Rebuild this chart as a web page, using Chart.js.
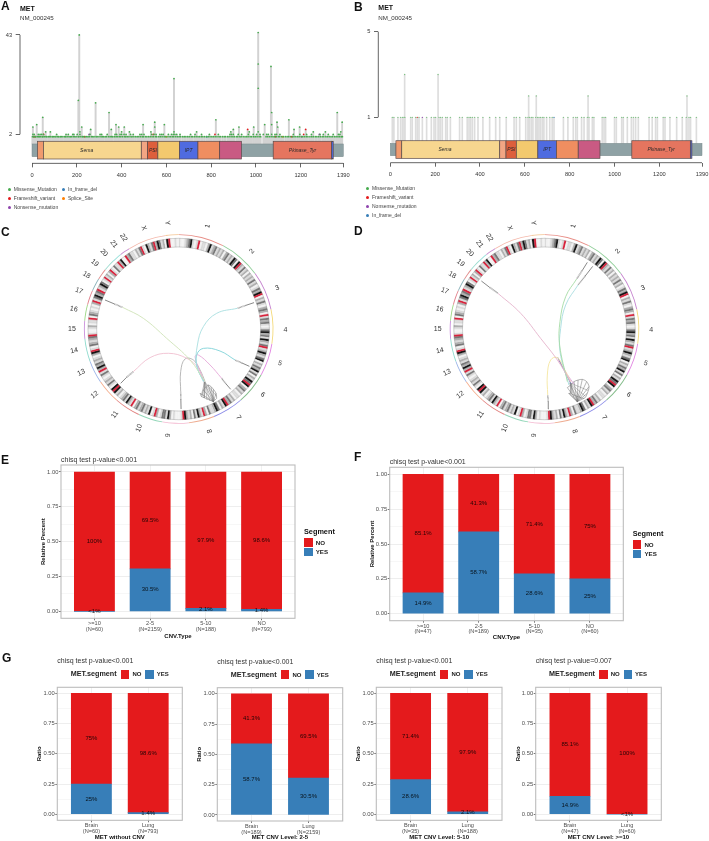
<!DOCTYPE html>
<html>
<head>
<meta charset="utf-8">
<title>MET</title>
<script src="https://cdn.jsdelivr.net/npm/chart.js@4"></script>
<style>
html, body { margin: 0; padding: 0; background: #fff; }
#page { position: relative; width: 709px; height: 841px; overflow: hidden; font-family: "Liberation Sans", Arial, sans-serif; color: #111; }
#page canvas { position: absolute; left: 0; top: 0; }
.t { position: absolute; white-space: nowrap; transform: translateY(-50%); line-height: 1; }
.sq, .dot { position: absolute; }
.dot { width: 3px; height: 3px; border-radius: 50%; }
</style>
</head>
<body>
<div id="page"></div>
<script>
// ---- protein track: MET, NM_000245 ----
var aaTicks = [0, 200, 400, 600, 800, 1000, 1200, 1390]
var domainStart = [25, 51, 488, 516, 562, 658, 741, 838, 1077, 1338]
var domainEnd = [51, 488, 516, 562, 658, 741, 838, 935, 1338, 1345]
var domainName = ['', 'Sema', '', 'PSI', '', 'IPT', '', '', 'Pkinase_Tyr', '']
var domainLabelAt = [0, 244, 0, 540, 0, 699, 0, 0, 1208, 0]

// cohort A mutations
var aTallX = [4, 21, 48, 61, 82, 211, 207, 222, 214, 262, 284, 344, 354, 375, 387, 412, 435, 400, 496, 548, 548, 591, 531, 634, 634, 821, 735, 899, 924, 888, 970, 990, 1010, 1010, 1010, 1010, 1067, 1070, 1070, 1039, 1094, 1097, 1147, 1170, 1195, 1363, 1385, 1379, 1310, 1256]
var aTallY = [5, 6, 9, 3, 3, 43, 16, 5, 3, 4, 15, 11, 4, 6, 5, 5, 3, 3, 6, 7, 5, 6, 3, 25, 3, 8, 3, 4, 5, 3, 3, 5, 44, 31, 21, 3, 30, 11, 6, 6, 7, 5, 8, 4, 5, 11, 7, 3, 3, 3]
var aMidX = [4, 10, 28, 36, 43, 51, 110, 152, 162, 182, 187, 202, 214, 259, 304, 311, 336, 371, 378, 393, 400, 411, 420, 440, 452, 482, 490, 500, 534, 545, 554, 571, 579, 586, 609, 623, 631, 638, 646, 661, 708, 728, 757, 792, 832, 884, 891, 899, 921, 936, 966, 988, 1003, 1018, 1033, 1048, 1055, 1070, 1085, 1092, 1107, 1167, 1196, 1226, 1248, 1286, 1301, 1323, 1345, 1368, 1375]
var aLowX = [2, 7, 13, 17, 24, 30, 33, 39, 46, 49, 55, 62, 66, 73, 78, 84, 91, 95, 102, 107, 115, 119, 126, 131, 138, 146, 150, 157, 165, 171, 176, 184, 191, 197, 206, 210, 218, 225, 229, 237, 244, 250, 256, 265, 271, 277, 286, 291, 299, 308, 314, 320, 327, 333, 342, 349, 356, 361, 369, 376, 383, 391, 397, 405, 414, 419, 426, 433, 442, 447, 455, 463, 470, 477, 485, 493, 498, 507, 513, 521, 528, 536, 543, 552, 557, 566, 573, 581, 590, 596, 603, 612, 619, 627, 633, 642, 650, 657, 664, 673, 680, 687, 695, 702, 711, 717, 725, 733, 741, 748, 756, 763, 771, 780, 787, 795, 803, 810, 818, 826, 835, 841, 850, 858, 864, 873, 880, 889, 897, 904, 913, 919, 928, 934, 943, 951, 958, 965, 974, 981, 990, 997, 1005, 1014, 1021, 1045, 1052, 1060, 1068, 1076, 1083, 1091, 1100, 1106, 1115, 1122, 1131, 1139, 1146, 1154, 1163, 1170, 1178, 1186, 1193, 1202, 1209, 1217, 1225, 1232, 1241, 1249, 1256, 1265, 1272, 1280, 1288, 1296, 1303, 1312, 1319, 1327, 1335, 1342, 1351, 1358, 1366, 1373, 1381, 1386]
var aFrameshiftX = [963, 1222, 8, 14, 52, 235, 541, 817, 1087, 1160, 1213]
var aFrameshiftY = [4, 4, 1, 1, 2, 1, 2, 2, 1, 1, 2]
var aNonsenseX = [255, 1204, 1283]
var aNonsenseY = [2, 1, 2]
var aInFrameX = [780]
var aInFrameY = [1]
var aSpliceX = [600, 1120]
var aSpliceY = [1, 1]

// cohort B mutations
var bTallX = [64, 213, 617, 651, 882, 1323]
var bTallY = [3, 3, 2, 2, 2, 2]
var bLowX = [9, 16, 34, 46, 54, 61, 65, 91, 98, 113, 128, 162, 183, 195, 202, 217, 224, 232, 247, 254, 268, 309, 321, 343, 351, 358, 366, 376, 391, 413, 443, 470, 488, 517, 552, 562, 577, 604, 614, 621, 629, 636, 648, 656, 663, 670, 678, 685, 697, 711, 722, 772, 792, 816, 827, 834, 853, 864, 879, 886, 901, 908, 945, 953, 960, 1000, 1008, 1032, 1039, 1057, 1075, 1084, 1094, 1106, 1154, 1168, 1183, 1191, 1217, 1225, 1247, 1277, 1302, 1320, 1332, 1339, 1365]
var bFrameshiftX = [120]
var bNonsenseX = [143]
var bInFrameX = [730]

// ---- circular genome plots ----
var chromNames = ['1', '2', '3', '4', '5', '6', '7', '8', '9', '10', '11', '12', '13', '14', '15', '16', '17', '18', '19', '20', '21', '22', 'X', 'Y']
var chromSpans = [28, 26, 24, 21, 20, 20, 19, 16, 16, 15, 16, 15, 14, 14, 11, 10, 9, 8, 7, 7, 6, 6.5, 23.5, 8]
var chromLabelDeg = [15.7, 43.2, 67.4, 90.5, 108.7, 128, 146, 163.6, 185.7, 201.8, 216.7, 232, 245.9, 258.3, 270, 280.8, 291, 300.3, 308.2, 315.6, 322.6, 328.9, 341, 354]
// stain of each band along a chromosome: 0 white .. 4 black, r centromere
var chromBands = ['1001234101r01102412312', '120231214304r21312021', '2131201324r02131023', '20r13231013423142', '13r1242134021324', '1302143r40231201', '102132r41203421', '1302r12413021', '24r1000102413', '3102r1041213', '21320r1241321', '0214r4013121', '0131r242312', '1024r103212', '3r1001201', '1r032101', '02r1342', '3r1243', '01r120', '2r1031', '1r240', '0r231', '10213r104213r243120', '4r0010']

// link paths in units of the outer radius (100)
var cTips = [
  [[-78, 30.7], [-68, 26.5], [-59.3, 22.9]],
  [[79.7, 27.9], [71, 25], [62.1, 21.9]],
  [[74.8, -39.5], [67, -36], [59.6, -32.8]],
  [[55, -63.8], [50, -58], [45.5, -52.2]],
  [[-61.4, -57.5], [-55, -51], [-48, -45.1]],
  [[2.5, -84.7], [2.3, -75], [2.1, -66.3]]
]
var cLinks = [
  [[-59.3, 22.9], [-37.4, 11.3], [-12.7, -9.9], [12, -32.8], [27.9, -55.7]],
  [[62.1, 21.9], [40.2, 16.6], [26.1, 2.5], [19.8, -16.9], [19, -38.1], [26.1, -55.7]],
  [[59.6, -32.8], [43.7, -23.3], [26.1, -20.5], [19, -27.5], [19.8, -41.6], [26.8, -55.7]],
  [[45.5, -52.2], [33.2, -38.1], [20.8, -27.5], [17.3, -29.3], [22.6, -45.1], [26.8, -55.7]],
  [[-48, -45.1], [-30.3, -30.3], [-10.9, -25.7], [8.5, -31], [20.8, -41.6], [26.8, -55.7]],
  [[2.1, -66.3], [2.1, -45.1], [6.7, -31.7], [15.5, -32.8], [22.6, -43.4], [27.9, -55.7]]
]
var cFanHub = [36.7, -76.9]
var cFanEnds = [[22.6, -68], [24.3, -71.6], [26.1, -64.5], [28.9, -61], [31.4, -59.3], [34.2, -61], [36.7, -63.8], [39.5, -68], [40.2, -73.4]]
var cFanApex = [27.5, -56]
var cFanLower = [[24, -70], [27, -73], [30, -75], [33, -76], [38, -75], [40, -71]]

var dTips = [
  [[-66.8, 50.8], [-58, 44], [-49.2, 37.7]],
  [[45.3, 70.5], [40, 62], [34, 52.9]],
  [[51, 66.3], [43, 56], [35.5, 46.6]],
  [[4.4, -84.7], [4, -77], [3.4, -69.8]]
]
var dLinks = [
  [[-49.2, 37.7], [-25.2, 16.6], [-4.1, -9.9], [13.6, -32.8], [27.7, -55.7]],
  [[34, 52.9], [22.4, 34.2], [16.4, 7.8], [16, -16.9], [24.2, -55.7]],
  [[35.5, 46.6], [22.4, 25.4], [17.1, 0.7], [16.4, -24], [25.9, -59.3]],
  [[3.4, -69.8], [3, -48.7], [6.5, -32.8], [13.6, -30.3], [20.6, -41.6], [27.7, -55.7]],
  [[14, -30], [20, -42], [28, -58]],
  [[15, -33], [24, -48], [31, -58]]
]
var dFanHub = [34.7, -76.9]
var dFanEnds = [[24.2, -62], [27.7, -59.3], [31.2, -55.7], [35.5, -54], [40, -53.3], [44.6, -55.7], [47.1, -61], [45.3, -68], [41.8, -73.4], [25.9, -68], [31.2, -73.4]]
var dFanApex = [27, -57]
var dFanLower = [[28, -68], [31, -72], [35, -75], [39, -74], [43, -71], [46, -65]]

// ---- segment proportion bars ----
var eCats = [['>=10', '(N=60)'], ['2-5', '(N=2159)'], ['5-10', '(N=188)'], ['NO', '(N=793)']]
var eYes = [0, 30.5, 2.1, 1.4]
var eNo = [100, 69.5, 97.9, 98.6]
var fCats = [['>=10', '(N=47)'], ['2-5', '(N=189)'], ['5-10', '(N=35)'], ['NO', '(N=60)']]
var fYes = [14.9, 58.7, 28.6, 25]
var fNo = [85.1, 41.3, 71.4, 75]
var g1Cats = [['Brain', '(N=60)'], ['Lung', '(N=793)']]
var g1Yes = [25, 1.4]
var g1No = [75, 98.6]
var g2Cats = [['Brain', '(N=189)'], ['Lung', '(N=2159)']]
var g2Yes = [58.7, 30.5]
var g2No = [41.3, 69.5]
var g3Cats = [['Brain', '(N=35)'], ['Lung', '(N=188)']]
var g3Yes = [28.6, 2.1]
var g3No = [71.4, 97.9]
var g4Cats = [['Brain', '(N=47)'], ['Lung', '(N=60)']]
var g4Yes = [14.9, 0]
var g4No = [85.1, 100]
var ratioTicks = [0, 0.125, 0.25, 0.375, 0.5, 0.625, 0.75, 0.875, 1]

// ---- colours ----
var RED = '#E41A1C'
var BLUE = '#377EB8'
var mutColor = { missense: '#46ab4e', frameshift: '#e41a1c', nonsense: '#8e44ad', inframe: '#377eb8', splice: '#ff7f00' }
var domainColor = ['#f09a6e', '#f7d68f', '#f2a583', '#dd5f3c', '#f3c96e', '#4f6be0', '#ef8e60', '#c95a83', '#e5755f', '#4f6be0']
var chromColor = ['#e88f88', '#92cf9b', '#c684cf', '#f4da7c', '#e288e2', '#86bd8c', '#8c8ce8', '#eeab8f', '#f4b8d0', '#92d6b8', '#e28482', '#f4ae8e', '#9cb5e8', '#92dccf', '#ca90dc', '#9ed887', '#e2848f', '#8fb5bc', '#e2908f', '#9cdccf', '#9ce2dc', '#ca90cf', '#f4b8ab', '#f4c490']
var stainColor = { '0': '#f2f2f2', '1': '#dadada', '2': '#b0b0b0', '3': '#777777', '4': '#141414', 'r': '#d8203a' }

Chart.defaults.font.family = '"Liberation Sans", Arial, sans-serif'
Chart.defaults.animation = false
Chart.defaults.plugins.legend.display = false
Chart.defaults.plugins.tooltip.enabled = false

var page = document.getElementById('page')

function newCanvas() {
  var c = document.createElement('canvas')
  c.width = 709
  c.height = 841
  page.appendChild(c)
  return c
}

function text(x, y, str, size, extra) {
  var d = document.createElement('div')
  d.className = 't'
  d.textContent = str
  d.style.left = x + 'px'
  d.style.top = y + 'px'
  d.style.fontSize = size + 'px'
  if (extra) d.style.cssText += extra
  page.appendChild(d)
}

function box(x, y, w, h, color) {
  var d = document.createElement('div')
  d.className = 'sq'
  d.style.cssText = 'left:' + x + 'px;top:' + y + 'px;width:' + w + 'px;height:' + h + 'px;background:' + color
  page.appendChild(d)
}

function dotKey(x, y, color, str) {
  var d = document.createElement('div')
  d.className = 'dot'
  d.style.cssText = 'left:' + (x - 1.5) + 'px;top:' + (y - 1.5) + 'px;background:' + color
  page.appendChild(d)
  text(x + 4.7, y, str, 5, 'color:#444')
}

// pins the plot area: the scales keep the sizes given here
function fitter(size) {
  return function (s) {
    if (s.isHorizontal()) s.height = size
    else s.width = size
    s.paddingLeft = s.paddingRight = s.paddingTop = s.paddingBottom = 0
  }
}

function pts(xs, ys, level) {
  return xs.map(function (x, i) { return { x: x, y: ys ? ys[i] : level } })
}

function scatterSet(points, color, radius) {
  return { type: 'scatter', data: points, pointRadius: radius, pointBorderWidth: 0, backgroundColor: color, order: 1, clip: false }
}

// ---- lollipop panels ----
function lollipop(cfg) {
  var L = cfg.left, R = cfg.right, T = cfg.top, B = cfg.bottom
  var trackPlugin = {
    id: 'track',
    afterDatasetsDraw: function (chart) {
      var ctx = chart.ctx, x = chart.scales.x, y = chart.scales.y
      ctx.save()
      // axis spines run only between the outer ticks
      ctx.strokeStyle = '#555'
      ctx.lineWidth = 0.9
      ctx.beginPath()
      ctx.moveTo(x.getPixelForValue(0), chart.chartArea.bottom)
      ctx.lineTo(x.getPixelForValue(1390), chart.chartArea.bottom)
      ctx.moveTo(chart.chartArea.left, y.getPixelForValue(cfg.yTicks[0]))
      ctx.lineTo(chart.chartArea.left, y.getPixelForValue(cfg.yTicks[1]))
      ctx.stroke()
      // backbone
      var b0 = y.getPixelForValue(cfg.backbone[0]), b1 = y.getPixelForValue(cfg.backbone[1])
      ctx.fillStyle = '#8fa2a5'
      ctx.fillRect(x.getPixelForValue(0), b0, x.getPixelForValue(1390) - x.getPixelForValue(0), b1 - b0)
      ctx.strokeStyle = '#7a8a8c'
      ctx.lineWidth = 0.5
      ctx.strokeRect(x.getPixelForValue(0), b0, x.getPixelForValue(1390) - x.getPixelForValue(0), b1 - b0)
      // domains
      var d0 = y.getPixelForValue(cfg.domainY[0]), d1 = y.getPixelForValue(cfg.domainY[1])
      domainStart.forEach(function (s, i) {
        var px0 = x.getPixelForValue(s), px1 = x.getPixelForValue(domainEnd[i])
        ctx.fillStyle = domainColor[i]
        ctx.fillRect(px0, d0, px1 - px0, d1 - d0)
        ctx.strokeStyle = '#5a4a4a'
        ctx.lineWidth = 0.7
        ctx.strokeRect(px0, d0, px1 - px0, d1 - d0)
      })
      ctx.fillStyle = '#2a2a2a'
      ctx.font = 'italic 5px "Liberation Sans"'
      ctx.textAlign = 'center'
      ctx.textBaseline = 'middle'
      domainName.forEach(function (n, i) {
        if (n) ctx.fillText(n, x.getPixelForValue(domainLabelAt[i]), (d0 + d1) / 2)
      })
      ctx.restore()
    }
  }
  new Chart(newCanvas(), {
    type: 'scatter',
    data: {
      datasets: [{
        type: 'bar',
        data: cfg.stems,
        base: cfg.backbone[0],
        barThickness: cfg.stemWidth,
        grouped: false,
        backgroundColor: cfg.stemColor,
        order: 2
      }].concat(cfg.marks)
    },
    options: {
      responsive: false,
      layout: { padding: { left: L - 20, right: 709 - R, top: T, bottom: 841 - B - 20 } },
      scales: {
        x: {
          type: 'linear', min: cfg.xMin, max: 1390, offset: false,
          border: { display: false },
          grid: { drawOnChartArea: false, offset: false, tickLength: 4, tickColor: '#555', tickWidth: 0.9 },
          afterBuildTicks: function (s) { s.ticks = aaTicks.map(function (v) { return { value: v } }) },
          afterFit: fitter(20),
          ticks: { autoSkip: false, maxRotation: 0, color: '#333', font: { size: 5.7 }, padding: 4.4, callback: function (v) { return String(v) } }
        },
        y: {
          type: 'linear', min: cfg.yMin, max: cfg.yMax,
          border: { display: false },
          grid: { drawOnChartArea: false, tickLength: 4.3, tickColor: '#555', tickWidth: 0.9 },
          afterBuildTicks: function (s) { s.ticks = cfg.yTicks.map(function (v) { return { value: v } }) },
          afterFit: fitter(20),
          ticks: { color: '#333', font: { size: 5.7 }, padding: 3.5, callback: function (v) { return String(v) } }
        }
      }
    },
    plugins: [trackPlugin]
  })
}

var aStems = pts(aTallX, aTallY).concat(pts(aMidX, null, 2), pts(aLowX, null, 1), pts(aFrameshiftX, aFrameshiftY), pts(aNonsenseX, aNonsenseY), pts(aInFrameX, aInFrameY), pts(aSpliceX, aSpliceY))
lollipop({
  left: 20, right: 343.3, top: 30.1, bottom: 163.36,
  xMin: -53.6, yMin: -10, yMax: 45, yTicks: [2, 43],
  backbone: [-2, -7.25], domainY: [-0.89, -8.2], stemColor: '#d2d2d2', stemWidth: 1.3,
  stems: aStems,
  marks: [
    scatterSet(pts(aTallX, aTallY).concat(pts(aMidX, null, 2), pts(aLowX, null, 1)), mutColor.missense, 0.85),
    scatterSet(pts(aFrameshiftX, aFrameshiftY), mutColor.frameshift, 0.85),
    scatterSet(pts(aNonsenseX, aNonsenseY), mutColor.nonsense, 0.85),
    scatterSet(pts(aInFrameX, aInFrameY), mutColor.inframe, 0.85),
    scatterSet(pts(aSpliceX, aSpliceY), mutColor.splice, 0.85)
  ]
})

var bStems = pts(bTallX, bTallY).concat(pts(bLowX, null, 1), pts(bFrameshiftX, null, 1), pts(bNonsenseX, null, 1), pts(bInFrameX, null, 1))
lollipop({
  left: 378.3, right: 702, top: 27.4, bottom: 162.7,
  xMin: -53.5, yMin: -1.12, yMax: 5.2, yTicks: [1, 5],
  backbone: [-0.215, -0.794], domainY: [-0.093, -0.916], stemColor: '#dddddd', stemWidth: 1,
  stems: bStems,
  marks: [
    scatterSet(pts(bTallX, bTallY).concat(pts(bLowX, null, 1)), '#78c07e', 0.65),
    scatterSet(pts(bFrameshiftX, null, 1), mutColor.frameshift, 0.65),
    scatterSet(pts(bNonsenseX, null, 1), mutColor.nonsense, 0.65),
    scatterSet(pts(bInFrameX, null, 1), mutColor.inframe, 0.65)
  ]
})

text(20, 8, 'MET', 7, 'font-weight:bold')
text(20, 18, 'NM_000245', 6.2, 'color:#333')
text(378.3, 7.3, 'MET', 7, 'font-weight:bold')
text(378.3, 17.7, 'NM_000245', 6.2, 'color:#333')
dotKey(9, 189, mutColor.missense, 'Missense_Mutation')
dotKey(9, 198, mutColor.frameshift, 'Frameshift_variant')
dotKey(9, 207, mutColor.nonsense, 'Nonsense_mutation')
dotKey(63.3, 189, mutColor.inframe, 'In_frame_del')
dotKey(63.3, 198, mutColor.splice, 'Splice_Site')
dotKey(367.3, 188.3, mutColor.missense, 'Missense_Mutation')
dotKey(367.3, 197.3, mutColor.frameshift, 'Frameshift_variant')
dotKey(367.3, 206.3, mutColor.nonsense, 'Nonsense_mutation')
dotKey(367.3, 215.3, mutColor.inframe, 'In_frame_del')

// ---- circular panels ----
var OUTER = 94.5

function circos(cx, cy, tips, links, linkColors, fan) {
  // one slice per band, each chromosome split evenly among its bands
  var bandValues = [], bandColors = []
  chromBands.forEach(function (bands, i) {
    bands.split('').forEach(function (code) {
      bandValues.push(chromSpans[i] / bands.length)
      bandColors.push(stainColor[code])
    })
  })
  new Chart(newCanvas(), {
    type: 'doughnut',
    data: {
      labels: bandValues.map(function () { return '' }),
      datasets: [
        { data: chromSpans, backgroundColor: chromColor, borderWidth: 0, spacing: 0.6, weight: 0.9 },
        { data: chromSpans, backgroundColor: 'rgba(0,0,0,0)', borderWidth: 0, weight: 2.9 },
        { data: bandValues, backgroundColor: bandColors, borderColor: bandColors, borderWidth: 0.25, weight: 8.7 }
      ]
    },
    options: {
      responsive: false,
      radius: OUTER,
      cutout: (82 / OUTER * 100) + '%',
      layout: { padding: { left: cx - 120, right: 709 - cx - 120, top: cy - 120, bottom: 841 - cy - 120 } }
    }
  })

  var toPoints = function (path) { return path.map(function (p) { return { x: p[0], y: p[1] } }) }
  var sets = []
  links.forEach(function (path, i) {
    sets.push({ data: toPoints(path), showLine: true, tension: 0.4, borderColor: linkColors[i], borderWidth: 0.9, pointRadius: 0, clip: false })
  })
  tips.forEach(function (path) {
    sets.push({ data: toPoints(path.slice(0, 2)), showLine: true, borderColor: '#555', borderWidth: 0.7, pointRadius: 0, clip: false })
    sets.push({ data: toPoints(path.slice(1)), showLine: true, borderColor: '#999', borderWidth: 1.5, borderDash: [0.8, 0.5], pointRadius: 0, clip: false })
  })
  fan.ends.forEach(function (end) {
    sets.push({ data: toPoints([fan.hub, end]), showLine: true, borderColor: '#707070', borderWidth: 0.5, pointRadius: 0, clip: false })
  })
  fan.lower.forEach(function (end) {
    sets.push({ data: toPoints([fan.apex, end]), showLine: true, borderColor: '#808080', borderWidth: 0.45, pointRadius: 0, clip: false })
  })
  sets.push({ data: toPoints(fan.ends), showLine: true, tension: 0.3, borderColor: '#808080', borderWidth: 0.6, pointRadius: 0, clip: false })

  var namesPlugin = {
    id: 'chromNames',
    afterDatasetsDraw: function (chart) {
      var ctx = chart.ctx, x = chart.scales.x, y = chart.scales.y
      var unit = (x.right - x.left) / 200
      ctx.save()
      // thin outline of the ideogram ring
      ctx.strokeStyle = 'rgba(110,110,110,0.7)'
      ctx.lineWidth = 0.4
      ;[86.8, 96].forEach(function (r) {
        ctx.beginPath()
        ctx.arc(x.getPixelForValue(0), y.getPixelForValue(0), r * unit, 0, Math.PI * 2)
        ctx.stroke()
      })
      ctx.fillStyle = '#333'
      ctx.font = '7px "Liberation Sans"'
      ctx.textAlign = 'center'
      ctx.textBaseline = 'middle'
      chromNames.forEach(function (n, i) {
        var deg = chromLabelDeg[i], th = deg * Math.PI / 180
        ctx.save()
        ctx.translate(x.getPixelForValue(113 * Math.sin(th)), y.getPixelForValue(113 * Math.cos(th)))
        ctx.rotate((deg <= 180 ? deg - 90 : deg + 90) * Math.PI / 180)
        ctx.fillText(n, 0, 0)
        ctx.restore()
      })
      ctx.restore()
    }
  }
  new Chart(newCanvas(), {
    type: 'scatter',
    data: { datasets: sets },
    options: {
      responsive: false,
      layout: { padding: { left: cx - OUTER, right: 709 - cx - OUTER, top: cy - OUTER, bottom: 841 - cy - OUTER } },
      scales: {
        x: { type: 'linear', min: -100, max: 100, display: false },
        y: { type: 'linear', min: -100, max: 100, display: false }
      }
    },
    plugins: [namesPlugin]
  })
}

circos(178.7, 329, cTips, cLinks, ['#cfe3b8', '#a8dfe0', '#7fd3d8', '#e5a7d8', '#f0c0d0', '#b0b0b0'], { hub: cFanHub, ends: cFanEnds, apex: cFanApex, lower: cFanLower })
circos(544.5, 329, dTips, dLinks, ['#e5b3cc', '#a5dba5', '#a8dce0', '#f5e7a0', '#7b7bb5', '#d9a0d9'], { hub: dFanHub, ends: dFanEnds, apex: dFanApex, lower: dFanLower })

// ---- stacked proportion panels ----
var labelPlugin = {
  id: 'segmentLabels',
  afterDatasetsDraw: function (chart) {
    var ctx = chart.ctx
    ctx.save()
    ctx.fillStyle = 'rgba(0,0,0,0.85)'
    ctx.font = '6px "Liberation Sans"'
    ctx.textAlign = 'center'
    ctx.textBaseline = 'middle'
    chart.data.datasets.forEach(function (ds, k) {
      chart.getDatasetMeta(k).data.forEach(function (bar, i) {
        var v = ds.percent[i]
        ctx.fillText(v < 1 ? '<1%' : v + '%', bar.x, (bar.y + bar.base) / 2)
      })
    })
    // panel border
    var a = chart.chartArea
    ctx.strokeStyle = '#bdbdbd'
    ctx.lineWidth = 1.1
    ctx.strokeRect(a.left, a.top, a.right - a.left, a.bottom - a.top)
    ctx.restore()
  }
}

function stackPanel(cfg) {
  var n = cfg.cats.length
  var xs = cfg.cats.map(function (c, i) { return i + 1 })
  var toRatio = function (vals) { return vals.map(function (v, i) { return { x: xs[i], y: v / 100 } }) }
  var yW = cfg.left - cfg.yTitleX + 3.6
  var xH = cfg.xTitleY + 3.6 - cfg.bottom
  new Chart(newCanvas(), {
    type: 'bar',
    data: {
      datasets: [
        { label: 'YES', data: toRatio(cfg.yes), percent: cfg.yes, backgroundColor: BLUE, barThickness: 40.2 },
        { label: 'NO', data: toRatio(cfg.no), percent: cfg.no, backgroundColor: RED, barThickness: 40.2 }
      ]
    },
    options: {
      responsive: false,
      layout: { padding: { left: cfg.left - yW, right: 709 - cfg.right, top: cfg.top, bottom: 841 - cfg.bottom - xH } },
      scales: {
        x: {
          type: 'linear', min: 0.4, max: n + 0.6, stacked: true, offset: false,
          border: { display: false },
          grid: { color: '#f0f0f0', offset: false, tickLength: 2, tickColor: '#777' },
          afterBuildTicks: function (s) { s.ticks = xs.map(function (v) { return { value: v } }) },
          afterFit: fitter(xH),
          title: { display: true, text: cfg.xTitle, color: '#111', padding: 0, font: { size: 6, weight: 'bold' } },
          ticks: {
            autoSkip: false, maxRotation: 0, color: '#4d4d4d', padding: 0.6,
            font: { size: 5.6, lineHeight: 1 },
            callback: function (v) { return cfg.cats[v - 1] }
          }
        },
        y: {
          type: 'linear', min: -0.05, max: 1.05, stacked: true,
          border: { display: false },
          grid: {
            color: function (c) { return c.tick.value * 4 % 1 === 0 ? '#eeeeee' : '#f7f7f7' },
            tickLength: 2,
            tickColor: function (c) { return c.tick.value * 4 % 1 === 0 ? '#777' : 'rgba(0,0,0,0)' }
          },
          afterBuildTicks: function (s) { s.ticks = ratioTicks.map(function (v) { return { value: v } }) },
          afterFit: fitter(yW),
          title: { display: true, text: cfg.yTitle, color: '#111', padding: 0, font: { size: 6, weight: 'bold' } },
          ticks: {
            color: '#4d4d4d', padding: 0.6, font: { size: 5.8 },
            callback: function (v) { return v * 4 % 1 === 0 ? v.toFixed(2) : '' }
          }
        }
      }
    },
    plugins: [labelPlugin]
  })
  text(cfg.left, cfg.titleY, cfg.title, 7, 'color:#333')
}

function sideLegend(x, yTitle, yNo, yYes) {
  text(x, yTitle, 'Segment', 7.3, 'font-weight:bold')
  box(x, yNo - 4.4, 8.6, 8.8, RED)
  box(x, yYes - 4.1, 8.6, 8.2, BLUE)
  text(x + 11.7, yNo, 'NO', 6.2, 'font-weight:bold;color:#222')
  text(x + 11.7, yYes, 'YES', 6.2, 'font-weight:bold;color:#222')
}

function topLegend(x, y) {
  text(x, y, 'MET.segment', 7.2, 'font-weight:bold;color:#222')
  box(x + 50, y - 4.4, 8.6, 9, RED)
  text(x + 61.7, y, 'NO', 6, 'font-weight:bold;color:#222')
  box(x + 74.7, y - 4.4, 8.4, 9, BLUE)
  text(x + 86, y, 'YES', 6, 'font-weight:bold;color:#222')
}

stackPanel({ cats: eCats, yes: eYes, no: eNo, left: 61, right: 295, top: 465, bottom: 618.3, yTitleX: 43.3, xTitleY: 636, xTitle: 'CNV.Type', yTitle: 'Relative Percent', title: 'chisq test p-value<0.001', titleY: 458.7 })
sideLegend(304, 532, 542.7, 551.7)
stackPanel({ cats: fCats, yes: fYes, no: fNo, left: 389.7, right: 623.3, top: 467.3, bottom: 620.7, yTitleX: 372, xTitleY: 637.7, xTitle: 'CNV.Type', yTitle: 'Relative Percent', title: 'chisq test p-value<0.001', titleY: 460.7 })
sideLegend(632.7, 534, 544.7, 553.7)

stackPanel({ cats: g1Cats, yes: g1Yes, no: g1No, left: 57.3, right: 182.3, top: 687.3, bottom: 820.3, yTitleX: 39.3, xTitleY: 837, xTitle: 'MET without CNV', yTitle: 'Ratio', title: 'chisq test p-value<0.001', titleY: 660.3 })
topLegend(70.7, 674.3)
stackPanel({ cats: g2Cats, yes: g2Yes, no: g2No, left: 217.3, right: 342.7, top: 687.7, bottom: 821, yTitleX: 199.3, xTitleY: 837.5, xTitle: 'MET CNV Level: 2-5', yTitle: 'Ratio', title: 'chisq test p-value<0.001', titleY: 660.7 })
topLegend(230.7, 674.6)
stackPanel({ cats: g3Cats, yes: g3Yes, no: g3No, left: 376.3, right: 502, top: 687.3, bottom: 820.3, yTitleX: 358.7, xTitleY: 837, xTitle: 'MET CNV Level: 5-10', yTitle: 'Ratio', title: 'chisq test p-value<0.001', titleY: 660 })
topLegend(389.7, 674.3)
stackPanel({ cats: g4Cats, yes: g4Yes, no: g4No, left: 535.7, right: 661.3, top: 687.3, bottom: 820.3, yTitleX: 518, xTitleY: 837, xTitle: 'MET CNV Level: >=10', yTitle: 'Ratio', title: 'chisq test p-value=0.007', titleY: 660 })
topLegend(549, 674.3)

// panel letters
var panelLetters = ['A', 'B', 'C', 'D', 'E', 'F', 'G']
var letterX = [1, 354, 1, 354, 1, 354, 2]
var letterY = [6, 7, 232, 231, 459.7, 457, 658]
panelLetters.forEach(function (l, i) {
  text(letterX[i], letterY[i], l, 12, 'font-weight:bold')
})
</script>
</body>
</html>
